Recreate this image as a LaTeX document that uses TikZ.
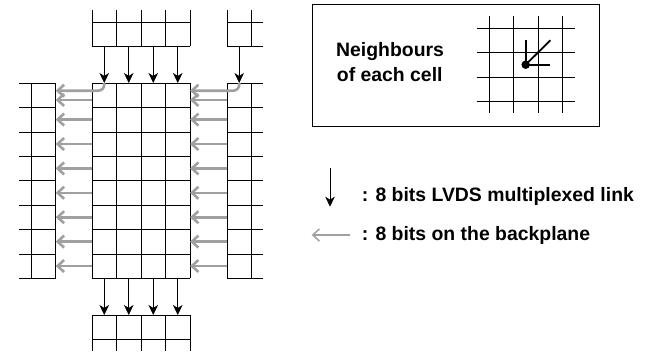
\documentclass[tikz,border=0pt]{standalone}
\usepackage{fontspec}
\setmainfont{Liberation Sans}
\usetikzlibrary{arrows.meta,positioning}
\definecolor{busgray}{RGB}{160,160,160}

\begin{document}
\begin{tikzpicture}[
  x=1pt, y=-1pt,
  gridline/.style={line width=0.6pt},
  link/.style={-{Stealth[length=10pt,width=9.5pt,inset=3pt]}, line width=0.6pt},
  bus/.style={-{Straight Barb[length=6.5pt,width=12pt]}, line width=2.6pt, busgray},
  lbl/.style={font=\bfseries\fontsize{19.4}{24}\selectfont, inner sep=0pt, anchor=base west},
  dot/.style={circle, fill=black, inner sep=0pt, minimum size=8.5pt}
]
\useasboundingbox (0,0) rectangle (650,351);

% main board of cells
\foreach \i in {0,...,4} \draw[gridline] (92+24.5*\i,83) -- (92+24.5*\i,278.3);
\foreach \j in {0,...,8} \draw[gridline] (92,83+24.4*\j) -- (190,83+24.4*\j);

% top neighbours
\foreach \i in {0,...,4} \draw[gridline] (92+24.5*\i,10) -- (92+24.5*\i,46.3);
\foreach \y in {22.3,46.3} \draw[gridline] (92,\y) -- (190,\y);
\foreach \x in {227,251.3} \draw[gridline] (\x,10) -- (\x,46.3);
\foreach \y in {22.3,46.3} \draw[gridline] (227,\y) -- (263.3,\y);

% left and right neighbours
\foreach \x in {31.7,55.7,227,251.3} \draw[gridline] (\x,83) -- (\x,278.3);
\foreach \j in {0,...,8} {
  \draw[gridline] (19,83+24.4*\j) -- (55.7,83+24.4*\j);
  \draw[gridline] (227,83+24.4*\j) -- (263.3,83+24.4*\j);
}

% bottom neighbours
\foreach \i in {0,...,4} \draw[gridline] (92+24.5*\i,315) -- (92+24.5*\i,351);
\foreach \y in {315,339.5} \draw[gridline] (92,\y) -- (190,\y);

% backplane links
\coordinate (lc) at (55.7,90.7);
\coordinate (rc) at (190,90.7);
\coordinate (te0) at (104.25,83);
\coordinate (tr) at (239.2,83);
\draw[bus, rounded corners=6pt] (te0) |- (lc);
\draw[bus, rounded corners=6pt] (tr) |- (rc);
\draw[bus] (92,100) -- (55.7,100);
\draw[bus] (227,100) -- (190,100);
\foreach \j in {1,...,7} {
  \draw[bus] (92,95.2+24.4*\j) -- (55.7,95.2+24.4*\j);
  \draw[bus] (227,95.2+24.4*\j) -- (190,95.2+24.4*\j);
}

% LVDS links
\foreach \i in {0,...,3} {
  \coordinate (ts\i) at (104.25+24.5*\i,46.3);
  \coordinate (te\i) at (104.25+24.5*\i,83);
  \coordinate (bs\i) at (104.25+24.5*\i,278.3);
  \coordinate (be\i) at (104.25+24.5*\i,315);
  \draw[link] (ts\i) -- (te\i);
  \draw[link] (bs\i) -- (be\i);
}
\coordinate (trs) at (239.2,46.3);
\draw[link] (trs) -- (tr);

% neighbourhood box
\draw[line width=1pt] (312.3,4) rectangle (599,126);
\node[lbl] (nb1) at (336,56.7) {Neighbours};
\node[lbl] (nb2) at (336.7,81) {of each cell};
\foreach \x in {489.3,513.3,538,562.7} \draw[gridline] (\x,16) -- (\x,113.3);
\foreach \y in {28,52.3,77,101.3} \draw[gridline] (476.7,\y) -- (575,\y);
\node[dot] (cell) at (525.7,64.7) {};
\coordinate (nup) at (525.7,40.3);
\coordinate (ndiag) at (550.3,40.3);
\coordinate (nright) at (550.3,64.7);
\draw[line width=1.8pt] (cell.center) -- (nup);
\draw[line width=1.8pt] (cell.center) -- (ndiag);
\draw[line width=1.8pt] (cell.center) -- (nright);

% legend
\coordinate (la) at (330,168.3);
\coordinate (lb) at (330,206.7);
\draw[link] (la) -- (lb);
\node[lbl] (lvds) at (361.7,201.7) {: 8 bits LVDS multiplexed link};
\coordinate (ga) at (350,235);
\coordinate (gb) at (311.7,235);
\draw[bus, line width=1.5pt] (ga) -- (gb);
\node[lbl] (back) at (361.7,240.5) {: 8 bits on the backplane};

\end{tikzpicture}
\end{document}
